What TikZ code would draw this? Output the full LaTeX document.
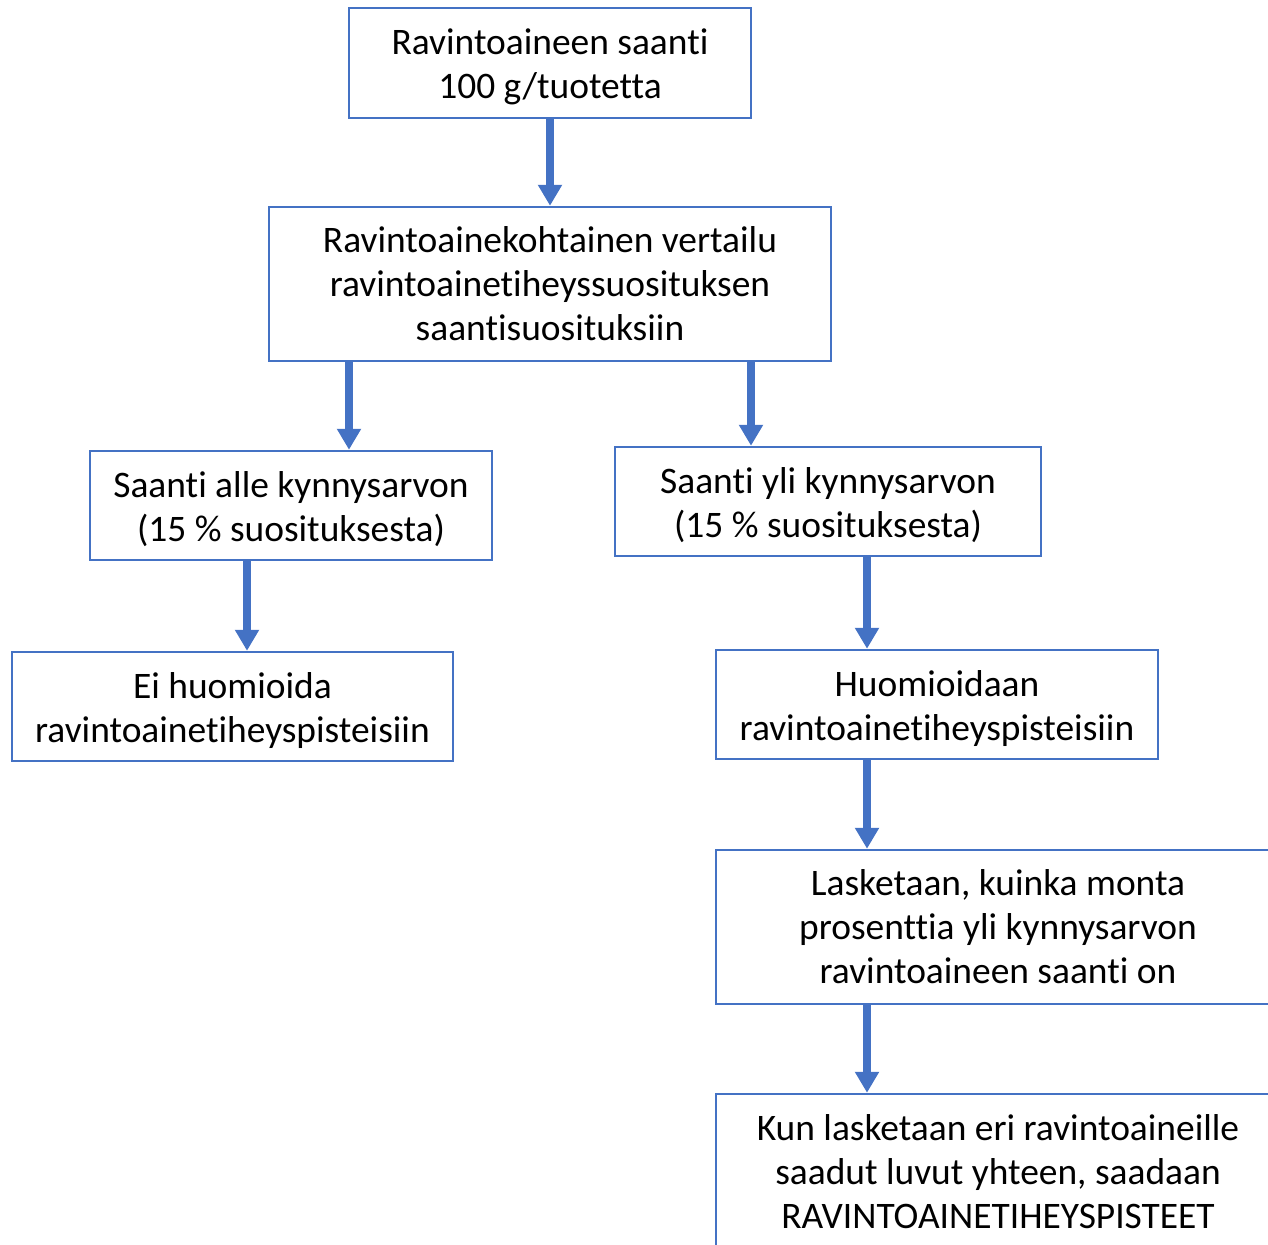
\documentclass[tikz,border=0pt]{standalone}
\usepackage{fontspec}
\setmainfont[Ligatures=NoCommon]{Carlito}
\usetikzlibrary{arrows.meta}
\definecolor{boxblue}{HTML}{4472C4}
\newcommand{\padtop}{\rule{0pt}{9.7pt}}
\begin{document}
\begin{tikzpicture}[
                    box/.style={draw=boxblue, line width=0.7pt, align=center, inner sep=0pt,
                                font=\fontsize{10.65}{12.5}\selectfont},
                    flow/.style={draw=boxblue, line width=2.3pt, -{Triangle[width=0.23cm, length=0.21cm]}}
                ]
                \clip (0,0) rectangle (12.68,-12.44);

                \node[box, minimum width=4.02cm, minimum height=1.10cm] (saanti)   at (5.50,-0.63)  {\padtop Ravintoaineen saanti\\100 g/tuotetta};
                \node[box, minimum width=5.62cm, minimum height=1.54cm] (vertailu) at (5.50,-2.84)  {Ravintoainekohtainen vertailu\\ravintoainetiheyssuosituksen\\saantisuosituksiin};
                \node[box, minimum width=4.02cm, minimum height=1.09cm] (alle)     at (2.91,-5.055) {\padtop Saanti alle kynnysarvon\\(15 \% suosituksesta)};
                \node[box, minimum width=4.26cm, minimum height=1.09cm] (yli)      at (8.28,-5.015) {\padtop Saanti yli kynnysarvon\\(15 \% suosituksesta)};
                \node[box, minimum width=4.41cm, minimum height=1.09cm] (eihuom)   at (2.325,-7.065) {\padtop Ei huomioida\\ravintoainetiheyspisteisiin};
                \node[box, minimum width=4.42cm, minimum height=1.09cm] (huom)     at (9.37,-7.045) {\padtop Huomioidaan\\ravintoainetiheyspisteisiin};
                \node[box, minimum width=5.64cm, minimum height=1.54cm] (lasketaan) at (9.98,-9.27) {Lasketaan, kuinka monta\\prosenttia yli kynnysarvon\\ravintoaineen saanti on};
                \node[box, minimum width=5.64cm, minimum height=1.56cm] (pisteet)  at (9.98,-11.72) {Kun lasketaan eri ravintoaineille\\saadut luvut yhteen, saadaan\\RAVINTOAINETIHEYSPISTEET};

                \draw[flow] (saanti) -- (vertailu);
                \draw[flow] ([xshift=-2.01cm]vertailu.south) -- ([xshift=-2.01cm]vertailu.south |- alle.north);
                \draw[flow] ([xshift=2.01cm]vertailu.south)  -- ([xshift=2.01cm]vertailu.south |- yli.north);
                \draw[flow] ([xshift=-0.44cm]alle.south)     -- ([xshift=-0.44cm]alle.south |- eihuom.north);
                \draw[flow] ([xshift=0.39cm]yli.south)       -- ([xshift=0.39cm]yli.south |- huom.north);
                \draw[flow] ([xshift=-0.70cm]huom.south)     -- ([xshift=-0.70cm]huom.south |- lasketaan.north);
                \draw[flow] ([xshift=-1.31cm]lasketaan.south) -- ([xshift=-1.31cm]lasketaan.south |- pisteet.north);

            \end{tikzpicture}
\end{document}
